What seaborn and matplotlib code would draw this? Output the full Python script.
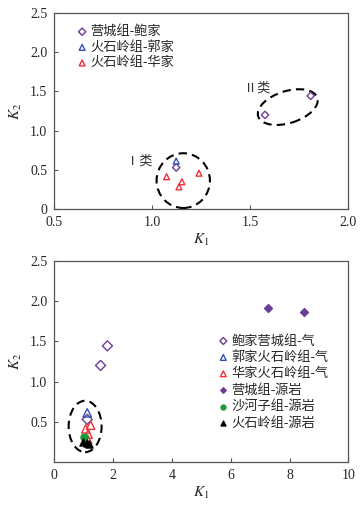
import numpy as np
import pandas as pd
import matplotlib
matplotlib.use("Agg")
import matplotlib.pyplot as plt
import matplotlib.transforms as mtransforms
from matplotlib.patches import Ellipse
import seaborn as sns

sns.set_style("ticks")
plt.rcParams["font.family"] = ["Liberation Serif", "Noto Sans CJK SC", "DejaVu Sans"]
plt.rcParams["mathtext.fontset"] = "stix"
plt.rcParams["axes.unicode_minus"] = False

# gas samples (shared by both panels)
gas_yc_k1 = [1.575, 1.808, 1.122]
gas_yc_k2 = [1.20, 1.444, 0.528]
gas_gj_k1 = [1.122]
gas_gj_k2 = [0.61]
gas_hj_k1 = [1.073, 1.151, 1.136, 1.238]
gas_hj_k2 = [0.41, 0.345, 0.28, 0.455]

# source rocks (bottom panel only)
src_yc_k1 = [7.26, 8.49]
src_yc_k2 = [1.91, 1.86]
src_sh_k1 = [1.01]
src_sh_k2 = [0.31]
src_hs_k1 = [0.97, 1.10, 1.19]
src_hs_k2 = [0.25, 0.235, 0.22]

top_labels = ["营城组-鲍家", "火石岭组-郭家", "火石岭组-华家"]
bot_labels = ["鲍家营城组-气", "郭家火石岭组-气", "华家火石岭组-气",
              "营城组-源岩", "沙河子组-源岩", "火石岭组-源岩"]

PURPLE = "#6a3d9a"
BLUE = "#3050b8"
RED = "#f0303a"
GREEN = "#1e9a3c"
BLACK = "#000000"
FRAME = "#555555"


def style_axes(ax):
    for s in ax.spines.values():
        s.set_visible(True)
        s.set_color(FRAME)
        s.set_linewidth(0.9)
    ax.tick_params(direction="in", length=3, width=0.8, color=FRAME,
                   labelsize=10, pad=5)
    ax.set_xlabel("$K_1$", fontsize=11, labelpad=2)
    ax.set_ylabel("$K_2$", fontsize=11, labelpad=4)


def pts(ax, x, y, marker, color, label, size, filled=False, lw=1.0):
    sns.scatterplot(x=x, y=y, marker=marker, s=size, ax=ax, label=label,
                    color=color, facecolor=color if filled else "none",
                    edgecolor=color, linewidth=lw, zorder=3)


fig = plt.figure(figsize=(3.64, 5.08), dpi=100)
ax1 = fig.add_axes([0.149, 0.589, 0.808, 0.385])
ax2 = fig.add_axes([0.149, 0.091, 0.808, 0.395])

# ---- top panel
pts(ax1, gas_yc_k1, gas_yc_k2, "D", PURPLE, top_labels[0], 14)
pts(ax1, gas_gj_k1, gas_gj_k2, "^", BLUE, top_labels[1], 18)
pts(ax1, gas_hj_k1, gas_hj_k2, "^", RED, top_labels[2], 18)

ax1.set_xlim(0.5, 2.0)
ax1.set_ylim(0, 2.5)
ax1.set_xticks([0.5, 1.0, 1.5, 2.0])
ax1.set_xticklabels(["0.5", "1.0", "1.5", "2.0"])
ax1.set_yticks([0, 0.5, 1.0, 1.5, 2.0, 2.5])
ax1.set_yticklabels(["0", "0.5", "1.0", "1.5", "2.0", "2.5"])
style_axes(ax1)

ax1.add_patch(Ellipse((1.158, 0.36), 0.272, 0.70, fill=False, ls=(0, (4, 2.5)),
                      lw=1.5, color="black", zorder=2))
tr = fig.dpi_scale_trans + mtransforms.ScaledTranslation(1.691, 1.30, ax1.transData)
ax1.add_patch(Ellipse((0, 0), 0.62, 0.32, angle=17.4, fill=False,
                      ls=(0, (4, 2.5)), lw=1.5, color="black", transform=tr, zorder=2))
ax1.text(1.535, 1.54, "Ⅱ类", fontsize=9.5, ha="center", va="center", color="#333333")
ax1.text(0.935, 0.60, "Ⅰ类", fontsize=9.5, ha="center", va="center", color="#333333")

ax1.legend(loc="upper left", bbox_to_anchor=(0.05, 0.965), frameon=False,
           fontsize=9.5, handletextpad=0.0, labelspacing=0.22,
           borderaxespad=0, handlelength=1.2)

# ---- bottom panel
pts(ax2, gas_yc_k1, gas_yc_k2, "D", PURPLE, bot_labels[0], 26)
pts(ax2, gas_gj_k1, gas_gj_k2, "^", BLUE, bot_labels[1], 36)
pts(ax2, gas_hj_k1, gas_hj_k2, "^", RED, bot_labels[2], 36)
pts(ax2, src_yc_k1, src_yc_k2, "D", PURPLE, bot_labels[3], 16, filled=True)
pts(ax2, src_sh_k1, src_sh_k2, "o", GREEN, bot_labels[4], 26, filled=True)
pts(ax2, src_hs_k1, src_hs_k2, "^", BLACK, bot_labels[5], 26, filled=True)

ax2.set_xlim(0, 10)
ax2.set_ylim(0, 2.5)
ax2.set_xticks([0, 2, 4, 6, 8, 10])
ax2.set_yticks([0.5, 1.0, 1.5, 2.0, 2.5])
ax2.set_yticklabels(["0.5", "1.0", "1.5", "2.0", "2.5"])
style_axes(ax2)

ax2.add_patch(Ellipse((1.05, 0.44), 1.12, 0.64, fill=False, ls=(0, (4, 2.5)),
                      lw=1.5, color="black", zorder=2))

ax2.legend(loc="upper left", bbox_to_anchor=(0.53, 0.66), frameon=False,
           fontsize=9.5, handletextpad=0.0, labelspacing=0.28,
           borderaxespad=0, handlelength=1.2, markerscale=0.7)

fig.savefig("out.png", dpi=100)
